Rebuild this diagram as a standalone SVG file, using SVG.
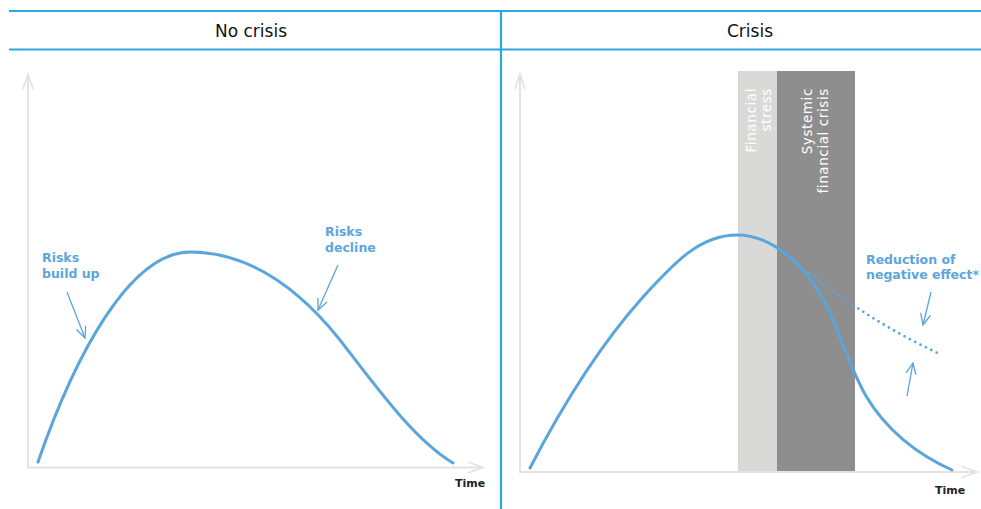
<svg xmlns="http://www.w3.org/2000/svg" width="981" height="509" viewBox="0 0 981 509">
<style>
.hdr{font-family:"DejaVu Sans","Liberation Sans",sans-serif;font-size:17px;fill:#111;text-anchor:middle}
.lbl{font-family:"DejaVu Sans","Liberation Sans",sans-serif;font-size:12.5px;font-weight:bold;fill:#5ba6dc}
.time{font-family:"DejaVu Sans","Liberation Sans",sans-serif;font-size:11px;font-weight:bold;fill:#222}
.bar{font-family:"DejaVu Sans","Liberation Sans",sans-serif;font-size:13.5px;letter-spacing:0.6px;fill:#fff;text-anchor:end}
.axis{fill:none;stroke:#e2e2e2;stroke-width:2}
.axhead{fill:none;stroke:#e2e2e2;stroke-width:1.6;stroke-linejoin:miter}
.curve{fill:none;stroke:#5aa5dc;stroke-width:3;stroke-linecap:round}
.dots{fill:none;stroke:#5aa5dc;stroke-width:2.8;stroke-linecap:round;stroke-dasharray:0 6}
.ann{fill:none;stroke:#5aa5dc;stroke-width:1.3}
.rule{stroke:#29a9e0;stroke-width:2.2}
</style>
<defs>
<marker id="open" markerUnits="userSpaceOnUse" markerWidth="16" markerHeight="14" viewBox="-13 -7 15 14" refX="0" refY="0" orient="auto">
<path d="M-11,-5 L0,0 L-11,5" fill="none" stroke="#5aa5dc" stroke-width="1.3"/>
</marker>
</defs>
<rect width="981" height="509" fill="#fff"/>
<g id="header">
<line class="rule" x1="9" y1="11" x2="981" y2="11"/>
<line class="rule" x1="9" y1="49.5" x2="981" y2="49.5"/>
<line class="rule" x1="501" y1="11" x2="501" y2="509"/>
<text class="hdr" x="251" y="37">No crisis</text>
<text class="hdr" x="750" y="37">Crisis</text>
</g>
<g id="bars">
<rect x="738" y="71" width="39" height="401" fill="#d9d9d8"/>
<rect x="777" y="71" width="78" height="401" fill="#8e8e8e"/>
<text class="bar" transform="translate(756,88) rotate(-90)">Financial</text>
<text class="bar" transform="translate(771,88) rotate(-90)">stress</text>
<text class="bar" transform="translate(812,88) rotate(-90)">Systemic</text>
<text class="bar" transform="translate(828,88) rotate(-90)">financial crisis</text>
</g>
<g id="axes-left">
<path class="axis" d="M28,75 L28,467.5 L482,467.5"/>
<path class="axhead" d="M23,89 L28,74 L33,89"/>
<path class="axhead" d="M468,462 L483,467.5 L468,473"/>
<text class="time" x="455" y="487">Time</text>
</g>
<g id="axes-right">
<path class="axis" d="M520,75 L520,472 L976,472"/>
<path class="axhead" d="M515,89 L520,74 L525,89"/>
<path class="axhead" d="M962,466.5 L977,472 L962,477.5"/>
<text class="time" x="935" y="494">Time</text>
</g>
<g id="curve-left">
<path class="curve" d="M38,462 C75,355 130,252 190,252 C250,252 300,290 340,340 C380,392 415,440 453,463"/>
</g>
<g id="curve-right">
<path class="curve" d="M530,468 C560,410 600,345 643,297 C675,262 700,235 737,235 C770,235 805,262 827,307 C840,334 851,370 866,396 C886,430 918,455 952,470"/>
<path class="dots" d="M810,273 Q870,322 942,355"/>
</g>
<g id="label-build-up">
<text class="lbl" x="42" y="262">Risks</text>
<text class="lbl" x="42" y="278">build up</text>
</g>
<g id="label-decline">
<text class="lbl" x="325" y="236">Risks</text>
<text class="lbl" x="325" y="252">decline</text>
</g>
<g id="label-reduction">
<text class="lbl" x="866" y="264">Reduction of</text>
<text class="lbl" x="866" y="279">negative effect*</text>
</g>
<g id="connectors">
<line class="ann" x1="67" y1="292" x2="85" y2="338" marker-end="url(#open)"/>
<line class="ann" x1="338" y1="265" x2="318" y2="310" marker-end="url(#open)"/>
<line class="ann" x1="931" y1="292" x2="923" y2="325" marker-end="url(#open)"/>
<line class="ann" x1="907" y1="396" x2="913" y2="363" marker-end="url(#open)"/>
</g>
</svg>
